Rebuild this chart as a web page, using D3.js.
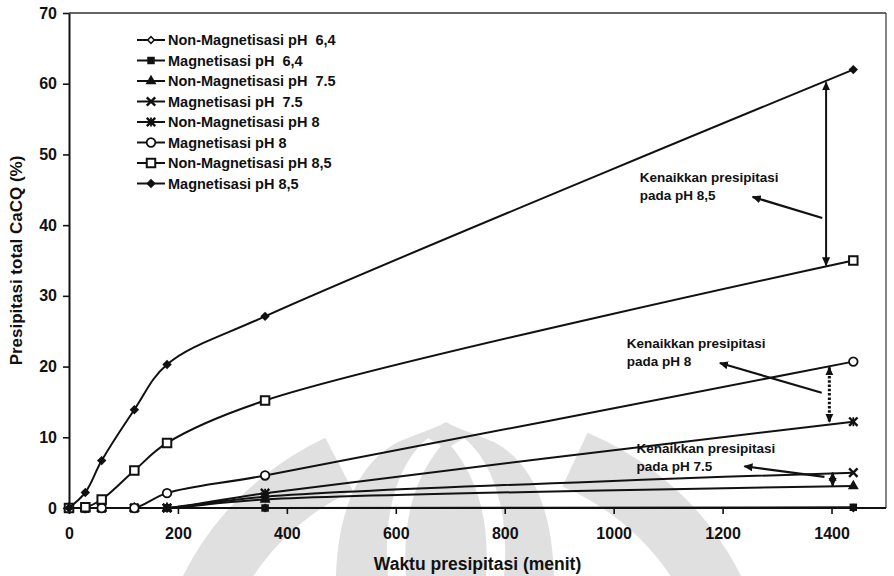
<!DOCTYPE html>
<html>
<head>
<meta charset="utf-8">
<script src="https://cdn.jsdelivr.net/npm/d3@7/dist/d3.min.js"></script>
<style>
  body { margin: 0; background: #fff; }
  svg { display: block; }
  text { font-family: "Liberation Sans", Arial, sans-serif; font-weight: bold; fill: #111; white-space: pre; }
</style>
</head>
<body>
<svg id="chart" width="894" height="576"></svg>
<script>
// Sampling times (minutes)
const times = [0, 30, 60, 120, 180, 360, 1440];

// Total CaCO3 precipitation (%) per run
const nonMag64 = [0, 0, 0, 0, 0, 0, 0];
const mag64    = [0, 0, 0, 0, 0, 0, 0.1];
const nonMag75 = [0, 0, 0, 0, 0, 1.2, 3.1];
const mag75    = [0, 0, 0, 0, 0, 1.6, 5.0];
const nonMag8  = [0, 0, 0, 0, 0, 2.1, 12.2];
const mag8     = [0, 0, 0, 0, 2.1, 4.6, 20.7];
const nonMag85 = [0, 0.1, 1.2, 5.3, 9.2, 15.2, 35.0];
const mag85    = [0, 2.2, 6.7, 13.9, 20.3, 27.1, 62.0];

const seriesNames = [
  "Non-Magnetisasi pH  6,4",
  "Magnetisasi pH  6,4",
  "Non-Magnetisasi pH  7.5",
  "Magnetisasi pH  7.5",
  "Non-Magnetisasi pH 8",
  "Magnetisasi pH 8",
  "Non-Magnetisasi pH 8,5",
  "Magnetisasi pH 8,5"
];
const seriesValues = [nonMag64, mag64, nonMag75, mag75, nonMag8, mag8, nonMag85, mag85];
const seriesMarkers = ["diamondOpen", "square", "triangle", "times", "star", "circleOpen", "squareOpen", "diamond"];

const xTicks = [0, 200, 400, 600, 800, 1000, 1200, 1400];
const yTicks = [0, 10, 20, 30, 40, 50, 60, 70];

// Annotations: label lines, label anchor (time, %), pointer arrow, and the double-headed span between two runs
const noteLines = [
  ["Kenaikkan presipitasi", "pada pH 8,5"],
  ["Kenaikkan presipitasi", "pada pH 8"],
  ["Kenaikkan presipitasi", "pada pH 7.5"]
];
const noteAnchor = [[1048, 46.1], [1024, 22.6], [1042, 7.8]];
const notePointerFrom = [[1383, 41.0], [1382, 16.3], [1387, 4.4]];
const notePointerTo = [[1255, 44.0], [1195, 20.5], [1240, 5.9]];
const noteSpanTime = [1390, 1396, 1402];
const noteSpanTop = [60.2, 19.9, 5.0];
const noteSpanBottom = [34.3, 12.2, 3.1];
const noteSpanDotted = [false, true, false];

const svg = d3.select("#chart");
const W = 894, H = 576;
const margin = { left: 69, right: 8, top: 13, bottom: 68 };

const x = d3.scaleLinear().domain([0, 1500]).range([margin.left, W - margin.right]);
const y = d3.scaleLinear().domain([0, 70]).range([H - margin.bottom, margin.top]);

// --- faint watermark emblem behind the plot ---
const wm = svg.append("g").attr("fill", "#e0e0e0");
const band = d3.arc().innerRadius(246).outerRadius(308);
const wmBands = wm.append("g").attr("transform", "translate(462,700) scale(1,0.95)");
wmBands.append("path").attr("d", band({ startAngle: 0.42, endAngle: 2.4 }));
wmBands.append("path").attr("d", band({ startAngle: -2.4, endAngle: -0.46 }));
wm.append("path").attr("d",
  "M 336,576 C 338,508 360,462 398,442 C 422,432 436,428 446,422 C 456,428 470,432 494,442 C 532,462 552,508 554,576 Z");
const wmSlits = svg.append("g").attr("fill", "#fff");
wmSlits.append("path").attr("d",
  "M 428,438 C 398,462 382,515 388,576 L 406,576 C 402,522 414,478 441,446 Z");
wmSlits.append("path").attr("d",
  "M 464,438 C 494,462 510,515 504,576 L 486,576 C 490,522 478,478 451,446 Z");

// --- frame ---
svg.append("line")
  .attr("x1", x(0)).attr("x2", x(1500)).attr("y1", y(70)).attr("y2", y(70))
  .attr("stroke", "#333").attr("stroke-width", 1.3);
svg.append("line")
  .attr("x1", x(1500)).attr("x2", x(1500)).attr("y1", y(70)).attr("y2", y(0))
  .attr("stroke", "#444").attr("stroke-width", 1.3);

// --- axes ---
const xAxis = svg.append("g")
  .attr("transform", `translate(0,${y(0)})`)
  .call(d3.axisBottom(x).tickValues(xTicks).tickFormat(d3.format("d"))
    .tickSize(6).tickPadding(14).tickSizeOuter(0));
const yAxis = svg.append("g")
  .attr("transform", `translate(${x(0)},0)`)
  .call(d3.axisLeft(y).tickValues(yTicks).tickFormat(d3.format("d"))
    .tickSize(6).tickPadding(6).tickSizeOuter(0));
[xAxis, yAxis].forEach(a => {
  a.select(".domain").attr("stroke", "#111").attr("stroke-width", 2);
  a.selectAll(".tick line").attr("stroke", "#111").attr("stroke-width", 1.6);
  a.selectAll(".tick text").style("font-size", "16px").style("font-family", "'Liberation Sans', Arial, sans-serif")
    .style("font-weight", "bold").attr("fill", "#111");
});
xAxis.select(".domain").attr("d", `M${x(0)},0H${x(1500)}`);

svg.append("text")
  .attr("x", (x(0) + x(1500)) / 2).attr("y", 570)
  .attr("text-anchor", "middle").style("font-size", "17.5px")
  .text("Waktu presipitasi (menit)");
svg.append("text")
  .attr("transform", `translate(22,${(y(0) + y(70)) / 2}) rotate(-90)`)
  .attr("text-anchor", "middle").style("font-size", "17px")
  .text("Presipitasi total CaCQ (%)");

// --- markers ---
const diamondPath = size => d3.symbol(d3.symbolSquare, size)();
function drawMarker(sel, kind) {
  switch (kind) {
    case "diamondOpen":
      sel.append("path").attr("d", diamondPath(22)).attr("transform", "rotate(45)")
        .attr("fill", "#fff").attr("stroke", "#111").attr("stroke-width", 1.5); break;
    case "square":
      sel.append("path").attr("d", d3.symbol(d3.symbolSquare, 56)()).attr("fill", "#111"); break;
    case "triangle":
      sel.append("path").attr("d", d3.symbol(d3.symbolTriangle, 52)()).attr("fill", "#111"); break;
    case "times":
      sel.append("path").attr("d", d3.symbol(d3.symbolTimes, 48)())
        .attr("fill", "none").attr("stroke", "#111").attr("stroke-width", 2.4); break;
    case "star":
      sel.append("path").attr("d", d3.symbol(d3.symbolTimes, 48)())
        .attr("fill", "none").attr("stroke", "#111").attr("stroke-width", 2.4);
      sel.append("path").attr("d", "M0,-4.5V4.5")
        .attr("stroke", "#111").attr("stroke-width", 1.8); break;
    case "circleOpen":
      sel.append("path").attr("d", d3.symbol(d3.symbolCircle, 58)())
        .attr("fill", "#fff").attr("stroke", "#111").attr("stroke-width", 1.8); break;
    case "squareOpen":
      sel.append("path").attr("d", d3.symbol(d3.symbolSquare, 72)())
        .attr("fill", "#fff").attr("stroke", "#111").attr("stroke-width", 2); break;
    case "diamond":
      sel.append("path").attr("d", diamondPath(44)).attr("transform", "rotate(45)").attr("fill", "#111"); break;
  }
}

// --- series lines and points ---
svg.append("defs").append("clipPath").attr("id", "plotClip")
  .append("rect").attr("x", x(0)).attr("y", 0)
  .attr("width", x(1500) - x(0)).attr("height", y(0) + 1);

const line = d3.line()
  .x(d => x(d[0])).y(d => y(d[1]))
  .curve(d3.curveCatmullRom.alpha(0.5));

const plot = svg.append("g");
seriesValues.forEach((vals, i) => {
  const pts = times.map((t, j) => [t, vals[j]]);
  const g = plot.append("g");
  g.append("path").attr("d", line(pts))
    .attr("clip-path", "url(#plotClip)")
    .attr("fill", "none").attr("stroke", "#111").attr("stroke-width", 2);
  pts.forEach(p => {
    const m = g.append("g").attr("transform", `translate(${x(p[0])},${y(p[1])})`);
    drawMarker(m, seriesMarkers[i]);
  });
});

// --- legend ---
const legend = svg.append("g").attr("transform", "translate(137,40)");
seriesNames.forEach((name, i) => {
  const row = legend.append("g").attr("transform", `translate(0,${i * 20.5})`);
  row.append("line").attr("x1", 0).attr("x2", 28).attr("y1", 0).attr("y2", 0)
    .attr("stroke", "#111").attr("stroke-width", 2);
  drawMarker(row.append("g").attr("transform", "translate(14,0)"), seriesMarkers[i]);
  row.append("text").attr("x", 31).attr("y", 5).style("font-size", "14.5px").text(name);
});

// --- annotations ---
const defs = svg.append("defs");
defs.append("marker").attr("id", "head")
  .attr("viewBox", "0 -5 10 10").attr("refX", 9).attr("refY", 0)
  .attr("markerWidth", 9).attr("markerHeight", 9).attr("markerUnits", "userSpaceOnUse")
  .attr("orient", "auto-start-reverse")
  .append("path").attr("d", "M0,-4.5L10,0L0,4.5Z").attr("fill", "#111");

const notes = svg.append("g");
noteLines.forEach((lines, i) => {
  const [tx, ty] = noteAnchor[i];
  const t = notes.append("text").attr("x", x(tx)).attr("y", y(ty)).style("font-size", "13.5px");
  lines.forEach((s, k) => t.append("tspan").attr("x", x(tx)).attr("dy", k === 0 ? 0 : 18).text(s));

  notes.append("line")
    .attr("x1", x(notePointerFrom[i][0])).attr("y1", y(notePointerFrom[i][1]))
    .attr("x2", x(notePointerTo[i][0])).attr("y2", y(notePointerTo[i][1]))
    .attr("stroke", "#111").attr("stroke-width", 2.2)
    .attr("marker-end", "url(#head)");

  notes.append("line")
    .attr("x1", x(noteSpanTime[i])).attr("x2", x(noteSpanTime[i]))
    .attr("y1", y(noteSpanTop[i])).attr("y2", y(noteSpanBottom[i]))
    .attr("stroke", "#111").attr("stroke-width", noteSpanDotted[i] ? 3 : 2)
    .attr("stroke-dasharray", noteSpanDotted[i] ? "2.5,1.8" : null)
    .attr("marker-start", "url(#head)").attr("marker-end", "url(#head)");
});
</script>
</body>
</html>
